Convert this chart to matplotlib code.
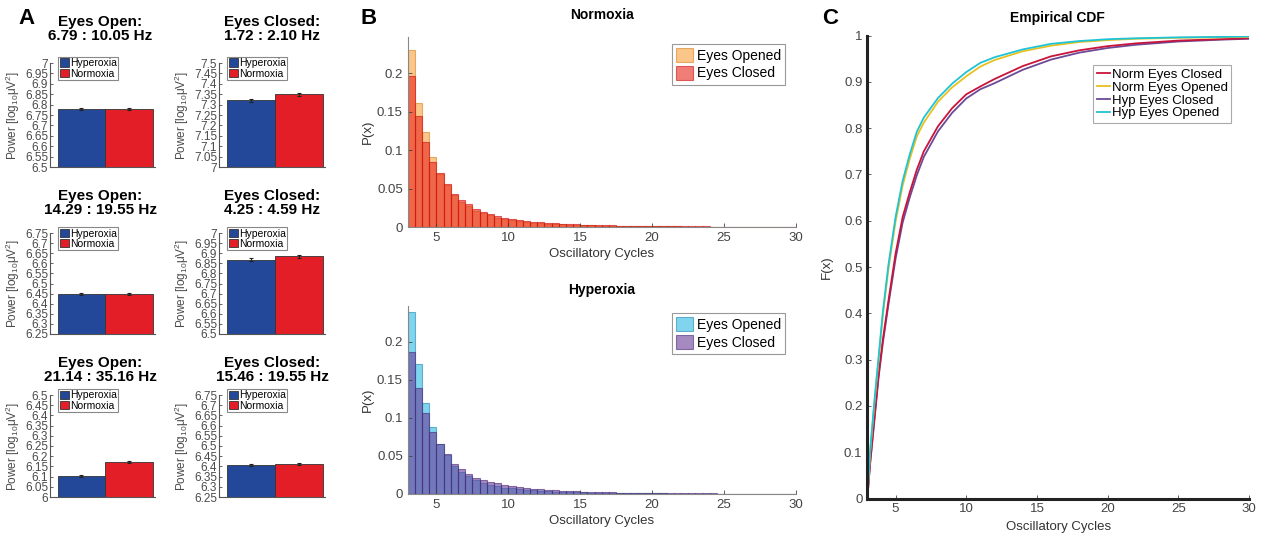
import numpy as np
import matplotlib
matplotlib.use("Agg")
import matplotlib.pyplot as plt
from matplotlib.ticker import FuncFormatter, MultipleLocator

plt.rcParams["font.family"] = ["Liberation Sans", "DejaVu Sans"]
plt.rcParams["mathtext.default"] = "regular"

# --- panel A: mean band power per condition ---
band_titles = [
    "Eyes Open:\n6.79 : 10.05 Hz", "Eyes Closed:\n1.72 : 2.10 Hz",
    "Eyes Open:\n14.29 : 19.55 Hz", "Eyes Closed:\n4.25 : 4.59 Hz",
    "Eyes Open:\n21.14 : 35.16 Hz", "Eyes Closed:\n15.46 : 19.55 Hz",
]
band_ylims = [(6.5, 7.0), (7.0, 7.5), (6.25, 6.75), (6.5, 7.0), (6.0, 6.5), (6.25, 6.75)]
hyperoxia_power = [6.78, 7.32, 6.448, 6.868, 6.102, 6.407]
normoxia_power = [6.78, 7.35, 6.448, 6.884, 6.170, 6.412]
hyperoxia_err = [0.004, 0.008, 0.004, 0.008, 0.005, 0.004]
normoxia_err = [0.004, 0.007, 0.004, 0.007, 0.005, 0.004]
group_names = ["Hyperoxia", "Normoxia"]

# --- panel B: distribution of oscillatory cycles (bin width 0.5, 3..30) ---
bin_edges = np.arange(3, 30.01, 0.5)
norm_open = [0.230, 0.161, 0.123, 0.091, 0.069, 0.054, 0.041, 0.032, 0.027, 0.021,
             0.018, 0.015, 0.012, 0.010, 0.0088, 0.0075, 0.0065, 0.0056, 0.0049, 0.0043,
             0.0038, 0.0033, 0.0029, 0.0026, 0.0023, 0.0021, 0.0019, 0.0017, 0.0015, 0.0014,
             0.0013, 0.0012, 0.0011, 0.001, 0.0009, 0.00085, 0.0008, 0.0007, 0.00065, 0.0006,
             0.00055, 0.0005, 0.00045, 0.0004, 0.0004, 0.00035, 0.00035, 0.0003, 0.0003, 0.00025,
             0.00025, 0.0002, 0.0002, 0.0002]
norm_closed = [0.196, 0.144, 0.110, 0.084, 0.070, 0.056, 0.043, 0.035, 0.030, 0.023,
               0.020, 0.017, 0.014, 0.012, 0.0105, 0.009, 0.0078, 0.0068, 0.006, 0.0053,
               0.0047, 0.0042, 0.0037, 0.0033, 0.003, 0.0027, 0.0024, 0.0022, 0.002, 0.0018,
               0.0016, 0.0015, 0.0014, 0.0013, 0.0012, 0.0011, 0.001, 0.0009, 0.00085, 0.0008,
               0.00075, 0.0007, 0.00065, 0.0006, 0.00055, 0.0005, 0.0005, 0.00045, 0.0004, 0.0004,
               0.00035, 0.00035, 0.0003, 0.0003]
hyp_open = [0.239, 0.171, 0.120, 0.088, 0.066, 0.051, 0.037, 0.029, 0.023, 0.018,
            0.015, 0.012, 0.010, 0.0085, 0.0074, 0.0064, 0.0055, 0.0048, 0.0042, 0.0037,
            0.0032, 0.0028, 0.0025, 0.0022, 0.002, 0.0018, 0.0016, 0.0014, 0.0013, 0.0012,
            0.0011, 0.001, 0.0009, 0.00085, 0.0008, 0.0007, 0.00065, 0.0006, 0.00055, 0.0005,
            0.00045, 0.0004, 0.0004, 0.00035, 0.00035, 0.0003, 0.0003, 0.00025, 0.00025, 0.0002,
            0.0002, 0.0002, 0.00015, 0.00015]
hyp_closed = [0.186, 0.139, 0.107, 0.081, 0.066, 0.052, 0.040, 0.033, 0.026, 0.021,
              0.018, 0.016, 0.014, 0.012, 0.010, 0.009, 0.008, 0.0072, 0.0064, 0.0056,
              0.005, 0.0045, 0.004, 0.0036, 0.0032, 0.0029, 0.0026, 0.0023, 0.0021, 0.0019,
              0.0017, 0.0016, 0.0015, 0.0014, 0.0013, 0.0012, 0.0011, 0.001, 0.0009, 0.00085,
              0.0008, 0.00075, 0.0007, 0.00065, 0.0006, 0.00055, 0.0005, 0.0005, 0.00045, 0.00045,
              0.0004, 0.0004, 0.00035, 0.00035]

# --- panel C: empirical CDF ---
cdf_x = [3, 3.2, 3.5, 3.8, 4.1, 4.5, 5, 5.5, 6, 6.5, 7, 8, 9, 10, 11, 12, 14, 16, 18, 20, 22, 25, 28, 30]
cdf_norm_closed = [0, 0.077, 0.173, 0.268, 0.343, 0.428, 0.529, 0.608, 0.661, 0.710, 0.750, 0.804,
                   0.843, 0.873, 0.890, 0.906, 0.934, 0.955, 0.968, 0.977, 0.983, 0.989, 0.992, 0.994]
cdf_norm_open = [0, 0.100, 0.205, 0.300, 0.396, 0.497, 0.598, 0.676, 0.733, 0.782, 0.812, 0.857,
                 0.888, 0.912, 0.933, 0.947, 0.966, 0.978, 0.986, 0.990, 0.993, 0.995, 0.996, 0.997]
cdf_hyp_closed = [0, 0.075, 0.168, 0.262, 0.336, 0.420, 0.518, 0.596, 0.650, 0.698, 0.738, 0.793,
                  0.833, 0.864, 0.884, 0.897, 0.926, 0.948, 0.963, 0.973, 0.980, 0.987, 0.991, 0.993]
cdf_hyp_open = [0, 0.103, 0.210, 0.306, 0.403, 0.506, 0.608, 0.686, 0.743, 0.792, 0.823, 0.865,
                0.896, 0.921, 0.941, 0.953, 0.970, 0.982, 0.988, 0.992, 0.994, 0.996, 0.997, 0.998]

W, H = 1263, 540
fig = plt.figure(figsize=(W / 100, H / 100), dpi=100)


def px_axes(left, top, right, bottom):
    return fig.add_axes([left / W, 1 - bottom / H, (right - left) / W, (bottom - top) / H])


grey = "#4a4a4a"
blue_bar = "#23489a"
red_bar = "#e41e26"
narrow = ["Liberation Sans Narrow", "Liberation Sans", "DejaVu Sans"]

# panel A grid of small bar charts
col_x = [(49.5, 155), (218.5, 325)]
row_y = [(63, 167), (233, 334), (395, 497)]
title_y = [29, 203, 370]
title_x = [100, 272]
fmt = FuncFormatter(lambda v, p: f"{round(v, 2):g}")
for k in range(6):
    r, c = divmod(k, 2)
    ax = px_axes(col_x[c][0], row_y[r][0], col_x[c][1], row_y[r][1])
    b1 = ax.bar(1, hyperoxia_power[k], width=1.0, color=blue_bar, edgecolor="#333333", linewidth=0.6,
                yerr=hyperoxia_err[k], error_kw=dict(ecolor="#222222", elinewidth=0.8, capsize=1.5, capthick=0.8))
    b2 = ax.bar(2, normoxia_power[k], width=1.0, color=red_bar, edgecolor="#333333", linewidth=0.6,
                yerr=normoxia_err[k], error_kw=dict(ecolor="#222222", elinewidth=0.8, capsize=1.5, capthick=0.8))
    ax.set_xlim(0.33, 2.55)
    ax.set_ylim(*band_ylims[k])
    ax.yaxis.set_major_locator(MultipleLocator(0.05))
    ax.yaxis.set_major_formatter(fmt)
    ax.set_xticks([])
    ax.tick_params(axis="y", direction="in", length=2, width=0.6, labelsize=8.5, colors=grey, pad=1)
    for lab in ax.get_yticklabels():
        lab.set_family(narrow)
    for s in ["top", "right"]:
        ax.spines[s].set_visible(False)
    for s in ["left", "bottom"]:
        ax.spines[s].set_color("#555555")
        ax.spines[s].set_linewidth(0.8)
    ax.set_ylabel("Power [log$_{10}$\u03bcV$^2$]", fontsize=8.5, color=grey, labelpad=2)
    leg = ax.legend([b1, b2], group_names, loc="upper left", bbox_to_anchor=(0.08, 1.06),
                    fontsize=7.5, handlelength=0.9, handleheight=0.9, handletextpad=0.1,
                    borderpad=0.15, labelspacing=0.02, borderaxespad=0, fancybox=False,
                    framealpha=1)
    leg.get_frame().set_edgecolor("#888888")
    leg.get_frame().set_linewidth(0.8)
    fig.text(title_x[c] / W, 1 - title_y[r] / H, band_titles[k], ha="center", va="center",
             fontsize=11, fontweight="bold", linespacing=1.0)

# panel B histograms
hist_sets = [
    ("Normoxia", norm_open, norm_closed, ("#f7a03c", "#d9801c"), ("#e8261c", "#cc1010"), 37, 227, 15),
    ("Hyperoxia", hyp_open, hyp_closed, ("#2cb8e2", "#1a88b0"), ("#6a3d9a", "#4a2878"), 306, 494, 290),
]
for name, opened, closed, oc, cc, top, bottom, ty in hist_sets:
    ax = px_axes(407.7, top, 796, bottom)
    ax.bar(bin_edges[:-1], opened, width=0.5, align="edge", color=oc[0], alpha=0.6,
           edgecolor=oc[1], linewidth=0.8, label="Eyes Opened")
    ax.bar(bin_edges[:-1], closed, width=0.5, align="edge", color=cc[0], alpha=0.6,
           edgecolor=cc[1], linewidth=0.8, label="Eyes Closed")
    ax.set_xlim(3, 30)
    ax.set_ylim(0, 0.247)
    ax.set_xticks([5, 10, 15, 20, 25, 30])
    ax.set_yticks([0, 0.05, 0.1, 0.15, 0.2])
    ax.yaxis.set_major_formatter(FuncFormatter(lambda v, p: f"{round(v, 2):g}"))
    ax.tick_params(direction="in", length=3, width=0.6, labelsize=9.5, colors="#444444")
    for s in ["top", "right"]:
        ax.spines[s].set_visible(False)
    for s in ["left", "bottom"]:
        ax.spines[s].set_color("#888888")
        ax.spines[s].set_linewidth(0.8)
    ax.set_xlabel("Oscillatory Cycles", fontsize=9.5, color="#333333", labelpad=3)
    ax.set_ylabel("P(x)", fontsize=9.5, color="#333333", labelpad=2)
    leg = ax.legend(loc="upper right", bbox_to_anchor=(0.99, 1.0), fontsize=10, handlelength=1.2,
                    handleheight=1.2, handletextpad=0.3, borderpad=0.3, labelspacing=0.2,
                    fancybox=False, framealpha=1)
    leg.get_frame().set_edgecolor("#999999")
    leg.get_frame().set_linewidth(0.8)
    fig.text(602 / W, 1 - ty / H, name, ha="center", va="center", fontsize=10, fontweight="bold")

# panel C cumulative distributions
ax = px_axes(867.3, 35.5, 1249, 498.5)
ax.plot(cdf_x, cdf_hyp_closed, color="#6b4a96", lw=1.3, label="Hyp Eyes Closed")
ax.plot(cdf_x, cdf_norm_closed, color="#c8143c", lw=1.3, label="Norm Eyes Closed")
ax.plot(cdf_x, cdf_norm_open, color="#e8c020", lw=1.3, label="Norm Eyes Opened")
ax.plot(cdf_x, cdf_hyp_open, color="#1ec4d6", lw=1.3, label="Hyp Eyes Opened")
ax.set_xlim(3, 30)
ax.set_ylim(0, 1)
ax.set_xticks([5, 10, 15, 20, 25, 30])
ax.set_yticks(np.arange(0, 1.01, 0.1))
ax.yaxis.set_major_formatter(FuncFormatter(lambda v, p: f"{round(v, 1):g}"))
ax.tick_params(direction="in", length=3, width=0.6, labelsize=9.5, colors="#444444")
for s in ["top", "right"]:
    ax.spines[s].set_visible(False)
for s in ["left", "bottom"]:
    ax.spines[s].set_color("#222222")
    ax.spines[s].set_linewidth(2.2)
ax.set_xlabel("Oscillatory Cycles", fontsize=9.5, color="#333333", labelpad=4)
ax.set_ylabel("F(x)", fontsize=9.5, color="#333333", labelpad=8)
handles, labels = ax.get_legend_handles_labels()
order = [1, 2, 0, 3]
leg = ax.legend([handles[i] for i in order], [labels[i] for i in order], loc="upper left",
                bbox_to_anchor=(0.575, 0.95), fontsize=9.5, handlelength=1.0, handletextpad=0.15,
                borderpad=0.25, labelspacing=0.05, fancybox=False, framealpha=1)
leg.get_frame().set_edgecolor("#aaaaaa")
leg.get_frame().set_linewidth(0.8)
fig.text(1057 / W, 1 - 18 / H, "Empirical CDF", ha="center", va="center", fontsize=10, fontweight="bold")

# panel letters
for letter, x in [("A", 27), ("B", 369), ("C", 830)]:
    fig.text(x / W, 1 - 19 / H, letter, ha="center", va="center", fontsize=16, fontweight="bold")

fig.savefig("out.png", dpi=100)
